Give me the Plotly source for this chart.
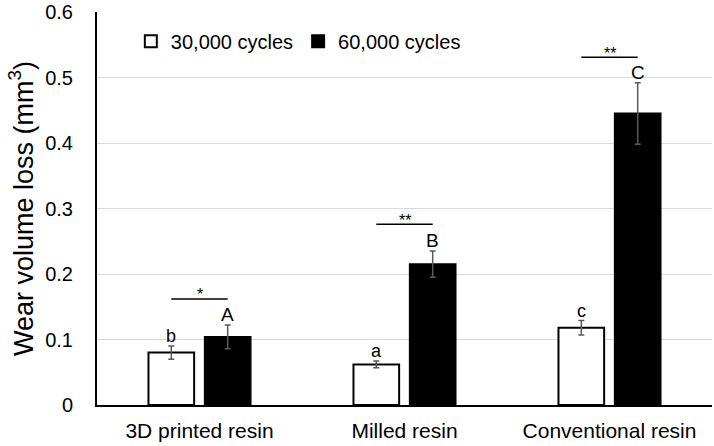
import plotly.graph_objects as go

groups = ["3D printed resin", "Milled resin", "Conventional resin"]
cycles30 = [0.080, 0.062, 0.118]
err30 = [0.010, 0.005, 0.011]
cycles60 = [0.104, 0.215, 0.445]
err60 = [0.018, 0.020, 0.047]
letters30 = ["b", "a", "c"]
letters60 = ["A", "B", "C"]
sig_marks = ["*", "**", "**"]
sig_heights = [0.162, 0.276, 0.531]

pos = list(range(len(groups)))
off = 0.1375
font = "Liberation Sans, Arial, sans-serif"

fig = go.Figure()
fig.add_trace(go.Bar(
    x=pos, y=cycles30, name="30,000 cycles",
    marker=dict(color="white", line=dict(color="black", width=2)),
    error_y=dict(type="data", array=err30, color="#595959", thickness=1.5, width=3),
))
fig.add_trace(go.Bar(
    x=pos, y=cycles60, name="60,000 cycles",
    marker=dict(color="black", line=dict(color="black", width=2)),
    error_y=dict(type="data", array=err60, color="#595959", thickness=1.5, width=3),
))

# significance brackets
for i, h in enumerate(sig_heights):
    fig.add_trace(go.Scatter(
        x=[i - off, i + off], y=[h, h], mode="lines",
        line=dict(color="black", width=1.5), showlegend=False, hoverinfo="skip",
    ))
    fig.add_annotation(x=i, y=h, text=sig_marks[i], showarrow=False,
                       yanchor="middle", yshift=4, font=dict(size=16, color="black", family=font))

# group letters
for i in pos:
    fig.add_annotation(x=i - off, y=cycles30[i] + err30[i], text=letters30[i], showarrow=False,
                       yanchor="bottom", yshift=-2, font=dict(size=18, color="black", family=font))
    fig.add_annotation(x=i + off, y=cycles60[i] + err60[i], text=letters60[i], showarrow=False,
                       yanchor="bottom", yshift=-2, font=dict(size=19, color="black", family=font))

fig.update_layout(
    width=714, height=446,
    margin=dict(l=97, r=2, t=12, b=41),
    plot_bgcolor="white", paper_bgcolor="white",
    font=dict(family=font, color="black"),
    barmode="group", bargap=0.45, bargroupgap=0.19,
    legend=dict(orientation="h", x=0.055, y=0.975, xanchor="left", yanchor="top",
                font=dict(size=20), bgcolor="rgba(0,0,0,0)", traceorder="normal"),
)
fig.update_xaxes(
    tickmode="array", tickvals=pos, ticktext=groups, range=[-0.5, 2.5],
    showline=True, linecolor="black", linewidth=2, ticks="",
    tickfont=dict(size=21), showgrid=False, zeroline=False,
    automargin=False, ticklabelstandoff=6,
)
fig.update_yaxes(
    range=[0, 0.6], dtick=0.1, showgrid=True, gridcolor="#d9d9d9", gridwidth=1,
    showline=True, linecolor="black", linewidth=2, ticks="", zeroline=False,
    tickfont=dict(size=20), tickformat=".1~f", automargin=False, ticklabelstandoff=18,
    title=dict(text="Wear volume loss (mm<sup>3</sup>)", font=dict(size=27), standoff=4),
)

# page body has a default margin; remove it so the figure sits at the window's corner
fig.write_html("out.html", config={"displayModeBar": False},
               post_script="document.body.style.margin='0';")
